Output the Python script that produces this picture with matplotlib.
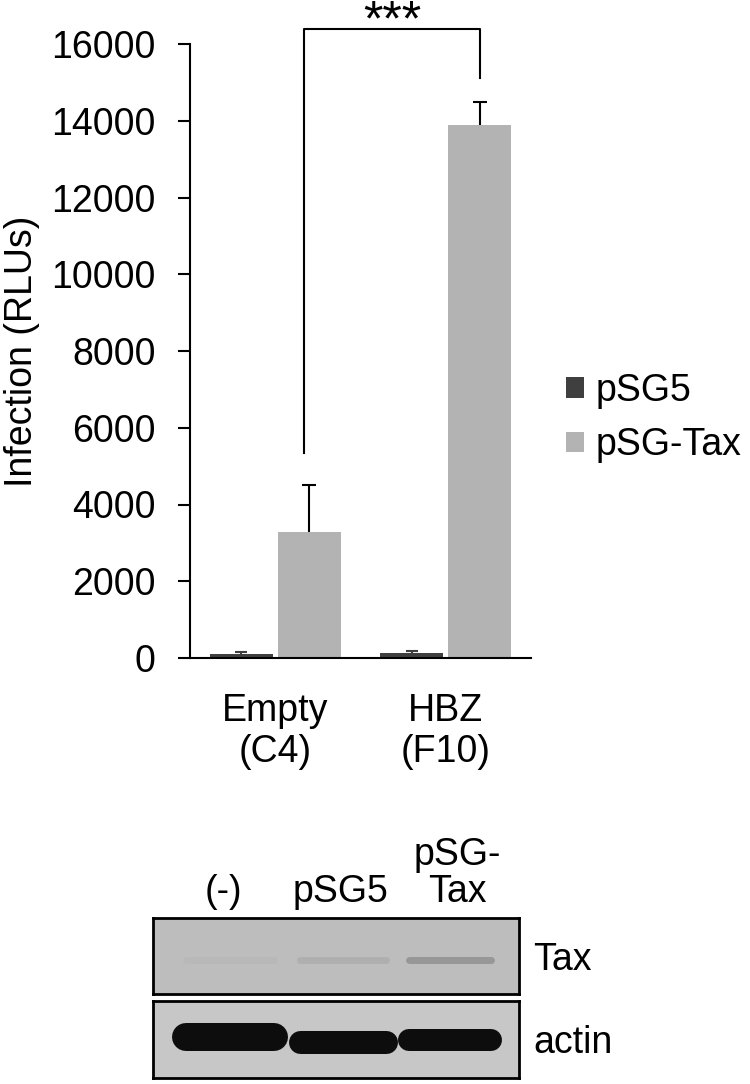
import numpy as np
import matplotlib
matplotlib.use('Agg')
import matplotlib.pyplot as plt

plt.rcParams['font.family'] = ['Liberation Sans', 'DejaVu Sans']

# Datos del grafico de barras
grupos = ['Empty\n(C4)', 'HBZ\n(F10)']
series = ['pSG5', 'pSG-Tax']
psg5 = [110, 130]
psg5_err = [50, 60]
psg_tax = [3290, 13890]
psg_tax_err = [1230, 600]
ticks_y = [0, 2000, 4000, 6000, 8000, 10000, 12000, 14000, 16000]
signif = '***'

# Datos del western blot
carriles = ['(-)', 'pSG5', 'pSG-\nTax']
bandas = ['Tax', 'actin']
tax_intensidad = [0.04, 0.12, 0.35]
actin_intensidad = [1.0, 1.0, 1.0]

color_oscuro = '#3f3f3f'
color_claro = '#b3b3b3'
fs = 27

fig = plt.figure(figsize=(7.5, 10.84), dpi=100)
W, H = 750, 1084

# Ejes del grafico de barras (en pixeles de la figura)
ax = fig.add_axes([190 / W, 1 - 658 / H, (531 - 190) / W, (658 - 44) / H])

x = np.arange(len(grupos))
ancho = 0.37
ax.bar(x - 0.2, psg5, ancho, color=color_oscuro, label=series[0])
ax.bar(x + 0.2, psg_tax, ancho, color=color_claro, label=series[1])

# barras de error solo hacia arriba, con tapa solo arriba
for xs, vals, errs, c, cap in [(x - 0.2, psg5, psg5_err, color_oscuro, 9),
                               (x + 0.2, psg_tax, psg_tax_err, 'black', 10)]:
    vals = np.array(vals)
    errs = np.array(errs)
    ax.vlines(xs, vals, vals + errs, color=c, lw=1.5)
    ax.plot(xs, vals + errs, ls='none', marker='_', ms=cap, mew=1.5, color=c)

ax.set_xlim(-0.5, 1.5)
ax.set_ylim(0, 16000)
ax.set_yticks(ticks_y)
ax.set_yticklabels([str(t) for t in ticks_y])
ax.set_xticks(x)
ax.set_xticklabels(grupos)
ax.tick_params(axis='y', direction='out', length=8.6, width=1.5, pad=16, labelsize=fs)
ax.tick_params(axis='x', length=0, pad=25, labelsize=fs)
for s in ['top', 'right']:
    ax.spines[s].set_visible(False)
for s in ['left', 'bottom']:
    ax.spines[s].set_linewidth(1.5)

ax.set_ylabel('Infection (RLUs)', fontsize=fs)
ax.yaxis.set_label_coords((40 - 190) / 341, 0.5)

# Corchete de significancia
xl, xr = 0.17, 1.2
y_izq = psg_tax[0] + psg_tax_err[0] + 820
y_der = psg_tax[1] + psg_tax_err[1] + 620
y_top = 16400
ax.plot([xl, xl, xr, xr], [y_izq, y_top, y_top, y_der], color='black', lw=1.5,
        clip_on=False)
ax.text((xl + xr) / 2, 16230, signif, ha='center', va='baseline',
        fontsize=36, clip_on=False)

# Leyenda
fig.legend(loc='center left', bbox_to_anchor=(566 / W, 1 - 418 / H),
           frameon=False, fontsize=fs, handlelength=0.48, handleheight=0.48,
           handletextpad=0.3, labelspacing=0.5, borderpad=0, borderaxespad=0)

# Western blot
blot_izq, blot_der = 152.7, 519.3
paneles = []
for top, bottom in [(917.7, 994.3), (1001, 1077.7)]:
    b = fig.add_axes([blot_izq / W, 1 - bottom / H, (blot_der - blot_izq) / W,
                      (bottom - top) / H])
    b.set_xlim(0, 1)
    b.set_ylim(0, 1)
    b.set_xticks([])
    b.set_yticks([])
    for s in b.spines.values():
        s.set_linewidth(2)
    paneles.append(b)

paneles[0].set_facecolor('#bdbdbd')
paneles[1].set_facecolor('#c7c7c7')

x_carril = [0.211, 0.519, 0.811]
semi = [0.12, 0.117, 0.112]

# banda Tax (tenue)
for xc, s, val in zip(x_carril, semi, tax_intensidad):
    paneles[0].plot([xc - s, xc + s], [0.45, 0.45], color='#505050', alpha=val,
                    lw=5, solid_capstyle='round')

# banda actina
y_actin = [0.53, 0.47, 0.49]
grosor = [28, 23, 22]
for xc, s, val, yb, g in zip(x_carril, semi, actin_intensidad, y_actin, grosor):
    paneles[1].plot([xc - s, xc + s], [yb, yb], color='#0d0d0d', alpha=val,
                    lw=g * 0.72, solid_capstyle='round')

# etiquetas de carriles y bandas
for xc, lab in zip([223, 341, 457], carriles):
    fig.text(xc / W, 1 - 910 / H, lab, ha='center', va='bottom', fontsize=fs,
             linespacing=1.05)
fig.text(533 / W, 1 - 970 / H, bandas[0], ha='left', va='baseline', fontsize=fs)
fig.text(533 / W, 1 - 1053 / H, bandas[1], ha='left', va='baseline', fontsize=fs)

fig.savefig('out.png', dpi=100)
